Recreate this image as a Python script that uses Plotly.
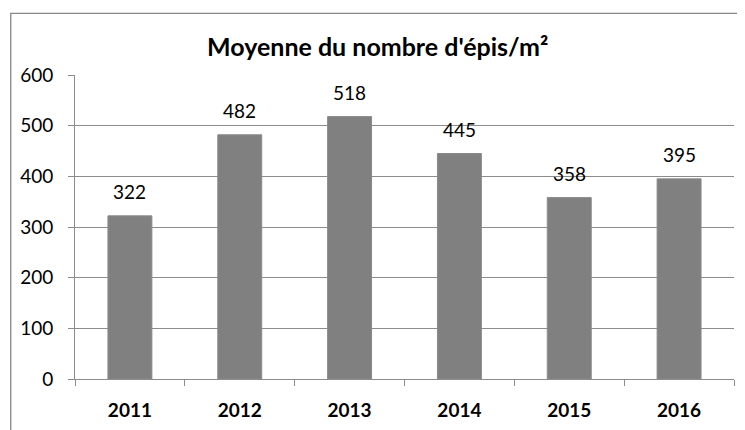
import plotly.graph_objects as go

years = ["2011", "2012", "2013", "2014", "2015", "2016"]
values = [322, 482, 518, 445, 358, 395]
y_ticks = [0, 100, 200, 300, 400, 500, 600]
title_text = "<b>Moyenne du nombre d'épis/m²</b>"

FONT = "Lato"
GRID = "#8c8c8c"

fig = go.Figure()
fig.add_trace(go.Bar(
    x=years, y=values,
    marker=dict(color="#808080", line=dict(color="#8a8a8a", width=1)),
    width=0.4,
    hoverinfo="skip",
))

annotations = [
    dict(x=i, y=v, xref="x", yref="y", text=str(v), showarrow=False,
         yanchor="bottom", yshift=11, font=dict(family=FONT, size=19, color="#000000"))
    for i, v in enumerate(values)
]
annotations.append(dict(
    text=title_text, xref="paper", yref="paper", x=0.4597, y=1.094, xanchor="center",
    yanchor="middle", showarrow=False, font=dict(family=FONT, size=25, color="#000000")))

fig.update_layout(
    width=745, height=430,
    margin=dict(l=65, r=19, t=67, b=59, pad=0),
    paper_bgcolor="white", plot_bgcolor="white",
    showlegend=False,
    annotations=annotations,
    shapes=[dict(type="rect", xref="paper", yref="paper",
                 x0=-0.0975, x1=1.1, y0=-0.3, y1=1.2026,
                 line=dict(color="#868686", width=1.3), fillcolor="rgba(0,0,0,0)", layer="below")],
    xaxis=dict(
        type="category", showline=True, linecolor=GRID, linewidth=1,
        ticks="outside", tickson="boundaries", ticklen=6, tickcolor=GRID,
        tickfont=dict(family=FONT, size=19, color="#000000", weight="bold"),
        ticklabelstandoff=14, showgrid=False, range=[-0.5, 5.5],
    ),
    yaxis=dict(
        range=[0, 600], tickvals=y_ticks, showline=True, linecolor=GRID, linewidth=1,
        ticks="outside", ticklen=6, tickcolor=GRID,
        showgrid=True, gridcolor=GRID, gridwidth=1, zeroline=False,
        tickfont=dict(family=FONT, size=19, color="#000000"),
        ticklabelstandoff=11,
    ),
)

fig.write_html("out.html")
